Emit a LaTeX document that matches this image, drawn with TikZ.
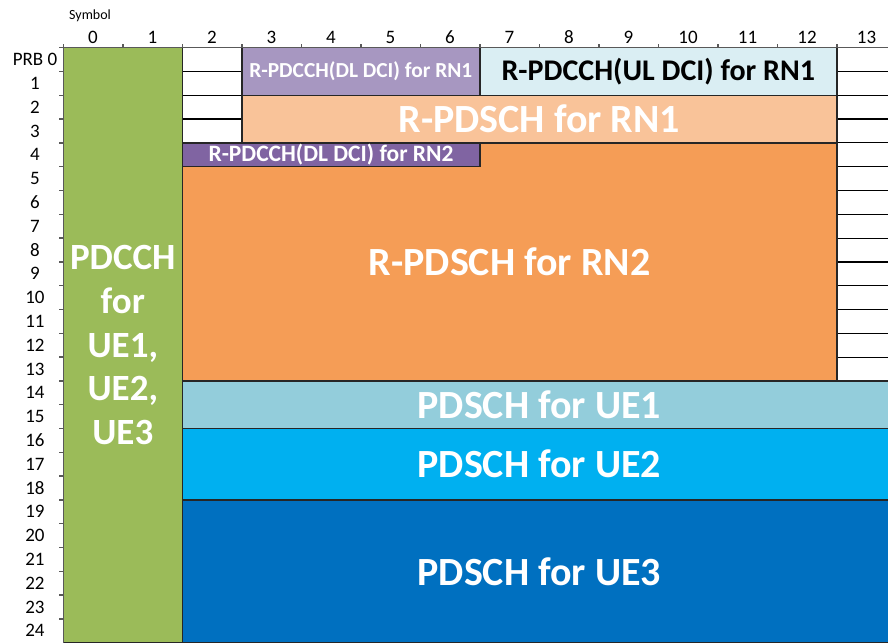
\documentclass[tikz,border=0pt]{standalone}
\usepackage{fontspec}
\setmainfont{Carlito}
\usetikzlibrary{positioning}
\definecolor{pdcchgreen}{HTML}{9BBB59}
\definecolor{dlrnone}{HTML}{A797C1}
\definecolor{ulrnone}{HTML}{DAEEF3}
\definecolor{pdschrnone}{HTML}{F9C399}
\definecolor{pdschrntwo}{HTML}{F59D56}
\definecolor{dlrntwo}{HTML}{8064A2}
\definecolor{ueone}{HTML}{93CDDB}
\definecolor{uetwo}{HTML}{00B0F0}
\definecolor{uethree}{HTML}{0070C0}
\definecolor{axisgray}{HTML}{595959}
\tikzstyle{cell} = [draw=black, fill=white, line width=1.2pt]
\tikzstyle{region} = [draw=black!85, line width=1.5pt]
\tikzstyle{bigtext} = [text=white, font=\bfseries\fontsize{40}{42}\selectfont]
\tikzstyle{dcitext} = [text=white, font=\bfseries\fontsize{21.4}{24}\selectfont]
\tikzstyle{axis} = [draw=axisgray, line width=1.5pt]
\tikzstyle{axislabel} = [font=\fontsize{19}{21}\selectfont, inner sep=0pt]

\begin{document}
\begin{tikzpicture}[x=59.5pt, y=-23.8pt]
  \useasboundingbox (-1.0639,-2.0042) rectangle (13.8605,25.0546);
  \clip (-1.0639,-2.0042) rectangle (13.8605,25.0546);
  % empty resource elements
  \foreach \r in {0,...,3} \draw[cell] (2,\r) rectangle (3,\r+1);
  \foreach \r in {0,...,13} \draw[cell] (13,\r) rectangle (14,\r+1);
  % allocated regions
  \draw[region, fill=pdcchgreen] (0,0) rectangle (2,25);
  \draw[region, fill=dlrnone] (3,0) rectangle (7,2);
  \draw[region, fill=ulrnone] (7,0) rectangle (13,2);
  \draw[region, fill=pdschrnone] (3,2) rectangle (13,4);
  \draw[region, fill=pdschrntwo] (2,4) rectangle (13,14);
  \draw[region, fill=dlrntwo] (2,4) rectangle (7,5);
  \draw[region, fill=ueone] (2,14) rectangle (14,16);
  \draw[region, fill=uetwo] (2,16) rectangle (14,19);
  \draw[region, fill=uethree] (2,19) rectangle (14,25);
  % region labels
  \node (pdcch) [bigtext, align=center, font=\bfseries\fontsize{37}{43.75}\selectfont] at (1,12.5) {PDCCH\\for\\UE1,\\UE2,\\UE3};
  \node (dl-rn1) [dcitext] at (5,1) {R-PDCCH(DL DCI) for RN1};
  \node (ul-rn1) [dcitext, text=black, font=\bfseries\fontsize{30}{32}\selectfont] at (10,1) {R-PDCCH(UL DCI) for RN1};
  \node (pdsch-rn1) [bigtext] at (8,3) {R-PDSCH for RN1};
  \node (dl-rn2) [dcitext, font=\bfseries\fontsize{23.5}{25}\selectfont] at (4.5,4.5) {R-PDCCH(DL DCI) for RN2};
  \node (pdsch-rn2) [bigtext] at (7.5,9) {R-PDSCH for RN2};
  \node (pdsch-ue1) [bigtext] at (8,15) {PDSCH for UE1};
  \node (pdsch-ue2) [bigtext] at (8,17.5) {PDSCH for UE2};
  \node (pdsch-ue3) [bigtext] at (8,22) {PDSCH for UE3};
  % symbol axis
  \draw[axis] (0,0) -- (14,0);
  \foreach \c in {0,...,13} {
    \draw[axis] (\c,0) -- ++(0,-0.17);
    \node (sym\c) [axislabel] at (\c+0.5,-0.45) {\c};
  }
  \node (symbol) [axislabel, font=\fontsize{14}{16}\selectfont] at (0.45,-1.33) {Symbol};
  % PRB axis
  \draw[axis] (0,0) -- (0,25);
  \foreach \r in {0,...,24} \draw[axis] (0,\r) -- ++(-0.07,0);
  \node (prb0) [axislabel] at (-0.476,0.5) {PRB 0};
  \foreach \r in {1,...,24} \node (prb\r) [axislabel] at (-0.476,\r+0.5) {\r};
\end{tikzpicture}
\end{document}
